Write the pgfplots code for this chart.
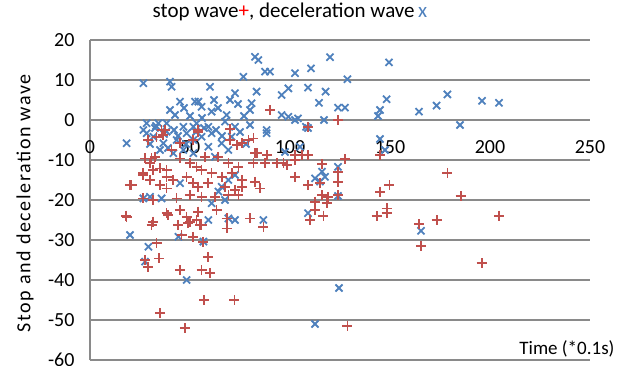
\documentclass[border=0pt]{standalone}
\usepackage{pgfplots}
\pgfplotsset{compat=1.18}
\usepackage{fontspec}
\setmainfont{Carlito}
\definecolor{xblue}{HTML}{4F81BD}
\definecolor{xred}{HTML}{C0504D}
\definecolor{gridgray}{HTML}{8A8A8A}
\begin{document}
\begin{tikzpicture}
\useasboundingbox (-90pt,-5pt) rectangle (529pt,360pt);
\begin{axis}[
  scale only axis, width=500pt, height=320pt,
  xmin=0, xmax=250, ymin=-60, ymax=20, clip=false,
  xtick={0,50,100,150,200,250}, ytick={-60,-50,-40,-30,-20,-10,0,10,20},
  axis y line*=left, axis x line*=middle,
  hide obscured x ticks=false,
  axis line style={draw=gridgray, line width=1.4pt},
  ymajorgrids, grid style={draw=gridgray, line width=1.4pt},
  major tick length=0pt,
  tick label style={font=\fontsize{20}{22}\selectfont},
  /pgf/number format/assume math mode=true,
  xticklabel style={yshift=-17pt},
  yticklabel style={xshift=-12pt},
  title={stop wave\textcolor{red}{+}, deceleration wave\,\textcolor{xblue}{x}},
  title style={at={(axis description cs:0.4,1.069)}, anchor=center, font=\fontsize{21}{24}\selectfont},
  ylabel={Stop and deceleration wave},
  ylabel style={at={(axis description cs:-0.13,0.49)}, anchor=center, font=\fontsize{20}{24}\selectfont\addfontfeatures{LetterSpace=8}},
]
\addplot[only marks, mark=x, mark size=5pt, draw=xblue, line width=1.8pt] coordinates {
(26.7,9.2) (40,9.6) (40.8,8.3) (45,4.6) (40,2.5) (42.5,1.25) (52.5,4.6)
(28.3,-0.8) (34.2,-0.8) (38.3,-0.8) (26.7,-2.5) (32.5,-2) (46.7,-1.7) (51.7,-1.7)
(82.5,15.8) (84.2,15) (87.5,12.1) (90,12.1) (102.5,11.7) (76.7,10.8) (60,8.3)
(99.2,7.9) (95.8,6.25) (72.5,6.7) (70,5) (83.3,7.1) (80.8,4.2) (80,2.5)
(54.2,4.6) (55.8,3.3) (60.8,2.1) (68.3,1.25) (95.8,1.25) (99.2,0.8) (102.5,0)
(53.3,-0.8) (59.2,-1.7) (67.5,-0.4) (72.5,-1.7) (80,-1.25) (88.3,-2.5)
(18.3,-5.8) (28.3,-3.3) (31.7,-4.2) (36.7,-5.8) (38.3,-2.9) (43.3,-5) (48.3,-3.3)
(51.7,-5) (35,-7.5) (41.7,-8.3) (46.7,-7.5) (51.7,-8.3) (45,-15.8)
(30,-19.2) (35.8,-19.6) (26.7,-19.6)
(55.8,-4.2) (60.8,-3.3) (59.2,-6.7) (65.8,-5.8) (69.2,-7.5) (62.5,-9.2) (70.8,-4.2) (88.3,-3.3)
(69.2,-15) (72.5,-13.75) (64.2,-17.9) (60.8,-20.8) (67.5,-20) (65.8,-16.7)
(69.2,-24.6) (72.5,-25) (86.7,-25) (59.2,-25)
(20,-28.75) (29.2,-31.7) (27.5,-35.4) (44.2,-29.2) (48.3,-40) (56.7,-30.4)
(33,-1.5) (37,-3.5) (42,-2.5) (44,-4) (48,-6) (30,-6) (39,-7) (53,-3) (57,-2)
(63,-2.5) (66,-4) (75,-3) (78,-6) (56,0.5) (50,1) (47,3) (62,5) (64,3) (74,4) (77,1)
(97.5,-8)
(120,15.7) (149.5,14.4) (110.5,12.9) (128.7,10.2) (109,8.1) (117.8,7.1) (114.5,4.3)
(148.3,5.2) (124,3.1) (127.5,3.1) (145,2.5) (144,1) (164.5,2.1) (173.3,3.6)
(178.7,6.4) (196,4.8) (204.5,4.3) (185,-1.25) (104,0.4) (117,0) (109,-2) (108,-1.7)
(145,-4.75) (147.5,-7.5) (105,-6.7) (116,-12.9) (117.5,-14.2) (112.5,-14.6) (115,-15.4)
(124,-11.7) (124,-19) (109,-23.3) (165.5,-27.7) (124.5,-42) (112.5,-51)
};
\addplot[only marks, mark=+, mark size=5pt, draw=xred, line width=1.8pt] coordinates {
(35.8,-2.5) (54,-2.5) (90,2.5) (70,-2.3) (54.2,-2.9) (29.2,-5) (36.7,-3.75)
(32.5,-9.2) (40.8,-7.5) (30,-10.8) (35,-12.1) (38.3,-12.5) (45,-9.6) (50,-10.8)
(53.3,-11.7) (26.7,-13.3) (30,-15) (38.3,-14.2) (41.7,-15) (48.3,-14.2) (51.7,-15.8)
(20.8,-16.25) (35,-16.25) (38.3,-17.1) (26.7,-19.6) (31.7,-20) (43.3,-19.6) (50,-18.75)
(18.3,-24.2) (31.7,-25.4) (38.3,-23.3) (45,-22.5) (48.3,-24.2) (53.3,-25)
(75.8,-5.8) (79.2,-5) (81.7,-4.6) (82.5,-8.3) (81.7,-10.8) (87.5,-10.8) (96.7,-10.8)
(102.5,-10) (102.5,-14.2) (82.5,-15.4) (85,-17.1)
(57.5,-9.2) (64.2,-9.2) (69.2,-10.8) (74.2,-11.7) (55.8,-12.5) (60.8,-13.3) (65.8,-14.2)
(70.8,-13.3) (75.8,-15) (54.2,-16.7) (59.2,-15.8) (67.5,-16.7) (72.5,-17.5) (75.8,-16.7)
(55.8,-19.2) (62.5,-19.2) (69.2,-18.75) (74.2,-18.75) (54.2,-22.9) (63.3,-22.5)
(68.3,-24.6) (80,-24.6) (30.8,-26.25) (44.2,-26.25) (49.2,-25.8) (33.3,-30.8)
(27.5,-35) (29.2,-36.7) (34.7,-34.6) (45.8,-28.75) (51.7,-29.2) (45,-37.5)
(35,-48.3) (47.5,-52) (55.8,-26.25) (68.3,-27.1) (86.7,-26.7) (56.7,-30.4)
(59.2,-34.2) (55.8,-37.5) (60,-38.3) (57.2,-45) (72.2,-45) (18,-23.9) (20,-16.25)
(50,-25.4) (55,-26.25) (39.2,-23.75)
(45,-5.8) (51.7,-5) (70,-5) (73.3,-6.25) (88.3,-8.75) (93.3,-10.8) (98.3,-11.25)
(83.3,-8.3) (26.7,-13.75) (31.7,-12.5) (27.5,-9.6) (30.8,-9.6) (33.3,-4.2) (37.5,-2.5)
(124,0) (109,-1.7) (145,-8.75) (127.5,-9.8) (102.5,-8.75) (106,-8.75) (109,-8.75)
(116,-11) (124,-12.9) (124,-15.4) (109,-16.25) (115,-15.8) (116,-18.75) (119,-19.2)
(124,-18.75) (112.5,-20.4) (118.3,-20.8) (112.5,-22.5) (110,-25) (116.7,-23.9)
(178.7,-13.2) (149.7,-16.25) (145,-17.9) (185.3,-19) (148.3,-22.1) (148.3,-23.3)
(143.3,-24) (204.5,-23.9) (164.5,-26) (173.3,-25) (165.5,-31.5) (195.8,-35.8) (128.7,-51.5)
};
\node[font=\fontsize{19}{22}\selectfont, anchor=east] at (axis description cs:1.056,0.035) {Time (*0.1s)};
\end{axis}
\end{tikzpicture}
\end{document}
